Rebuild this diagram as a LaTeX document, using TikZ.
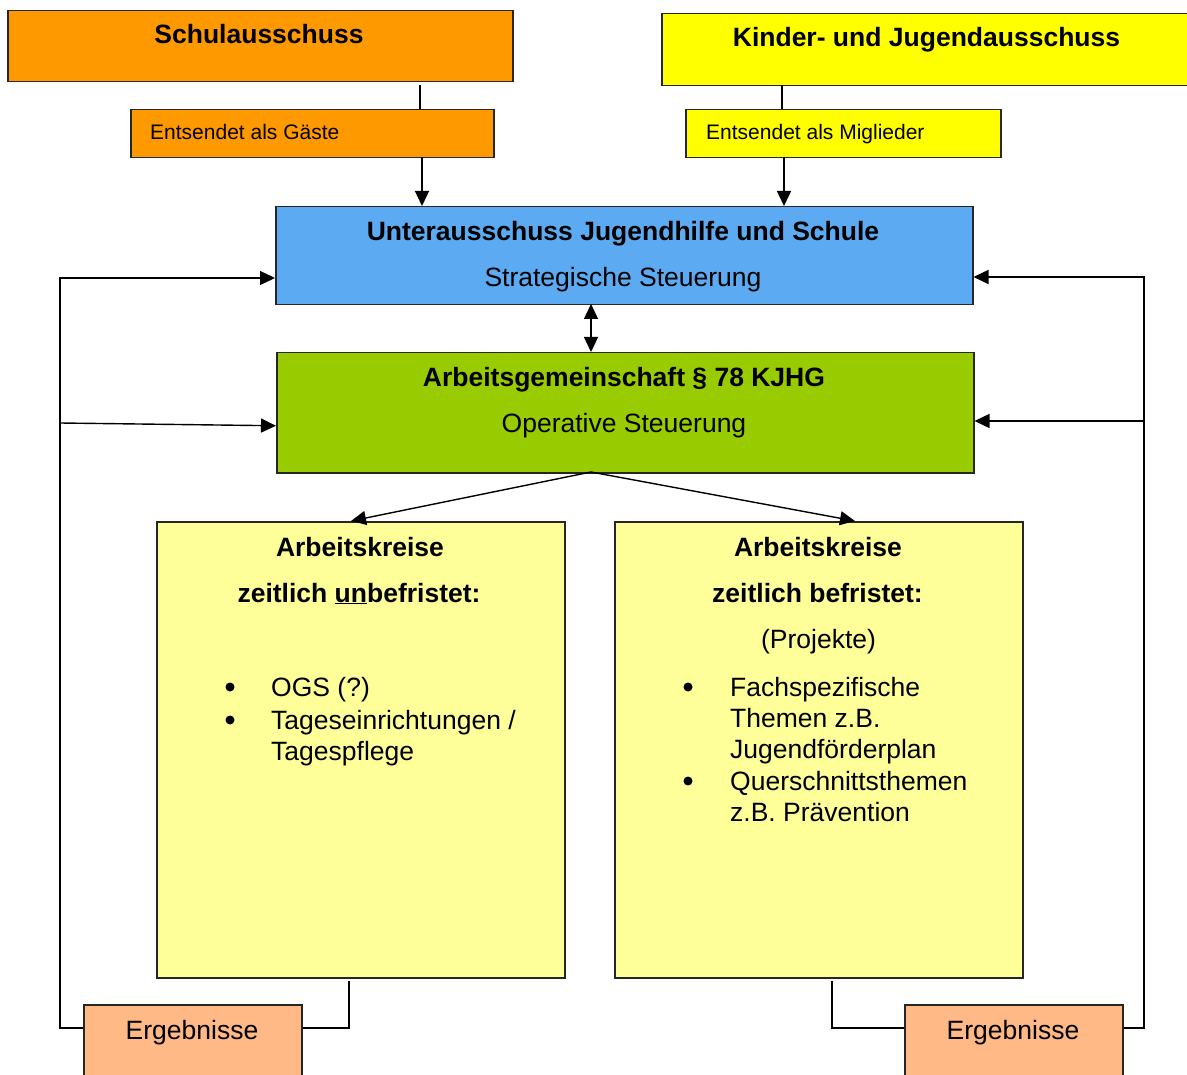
\documentclass[tikz,border=0pt]{standalone}
\usepackage{fontspec}
\setmainfont{Liberation Sans}
\usetikzlibrary{arrows.meta,calc}
\definecolor{cOrange}{HTML}{FF9900}
\definecolor{cYellow}{HTML}{FFFF00}
\definecolor{cBlue}{HTML}{5CAAF2}
\definecolor{cGreen}{HTML}{99CC00}
\definecolor{cPale}{HTML}{FFFF99}
\definecolor{cPeach}{HTML}{FFB986}
\begin{document}
\begin{tikzpicture}[x=1pt,y=-1pt,
  box/.style={draw=black!85, line width=1.5pt, inner sep=0pt, anchor=north west},
  ln/.style={line width=1.4pt},
  arr/.style={ln, -{Triangle[length=15pt,width=14pt]}},
  arrtwo/.style={ln, {Triangle[length=15pt,width=14pt]}-{Triangle[length=15pt,width=14pt]}},
  big/.style={font=\fontsize{26.5}{30}\selectfont, inner sep=0pt, anchor=base},
  bigb/.style={font=\fontsize{26.5}{30}\selectfont\bfseries, inner sep=0pt, anchor=base},
  item/.style={font=\fontsize{26.5}{30}\selectfont, inner sep=0pt, anchor=base west},
  small/.style={font=\fontsize{21}{24}\selectfont, inner sep=0pt, anchor=base west},
  dot/.style={circle, fill=black, inner sep=0pt, minimum size=9pt}]
\useasboundingbox (0,0) rectangle (1187,1075);

% boxes
\node[box, fill=cOrange, minimum width=505pt, minimum height=71pt] (schul) at (7,10) {};
\node[box, fill=cYellow, minimum width=540pt, minimum height=72pt] (kinder) at (661,13) {};
\node[box, fill=cOrange, minimum width=363pt, minimum height=48pt] (gaeste) at (130,109) {};
\node[box, fill=cYellow, minimum width=315pt, minimum height=48pt] (migl) at (685,109) {};
\node[box, fill=cBlue, minimum width=697pt, minimum height=98pt] (blue) at (275,206) {};
\node[box, fill=cGreen, minimum width=697pt, minimum height=120pt] (green) at (276,352) {};
\node[box, fill=cPale, minimum width=408pt, minimum height=456pt] (ak1) at (156,521) {};
\node[box, fill=cPale, minimum width=408pt, minimum height=456pt] (ak2) at (614,521) {};
\node[box, fill=cPeach, minimum width=218pt, minimum height=100pt] (erg1) at (83,1004) {};
\node[box, fill=cPeach, minimum width=218pt, minimum height=100pt] (erg2) at (904,1004) {};

% texts
\node[bigb] (tschul) at (259,44) {Schulausschuss};
\node[bigb] (tkinder) at (926.5,47) {Kinder- und Jugendausschuss};
\node[small] (tgaeste) at (150,139.5) {Entsendet als Gäste};
\node[small] (tmigl) at (706,139.5) {Entsendet als Miglieder};
\node[bigb] (tblue1) at (623,241) {Unterausschuss Jugendhilfe und Schule};
\node[big] (tblue2) at (623,287) {Strategische Steuerung};
\node[bigb] (tgreen1) at (624,387) {Arbeitsgemeinschaft § 78 KJHG};
\node[big] (tgreen2) at (624,433) {Operative Steuerung};

\node[bigb] (tak1a) at (360,556) {Arbeitskreise};
\node[bigb] (tak1b) at (359,602) {zeitlich \underline{un}befristet:};
\node[dot] (b1) at (230,687) {};
\node[dot] (b2) at (230,720) {};
\node[item] (i1) at (271,696) {OGS (?)};
\node[item] (i2) at (271,729) {Tageseinrichtungen /};
\node[item] (i3) at (271,760) {Tagespflege};

\node[bigb] (tak2a) at (818,556) {Arbeitskreise};
\node[bigb] (tak2b) at (817.5,602) {zeitlich befristet:};
\node[big] (tak2c) at (818.5,648) {(Projekte)};
\node[dot] (b3) at (688,687) {};
\node[dot] (b4) at (688,781) {};
\node[item] (j1) at (730,696) {Fachspezifische};
\node[item] (j2) at (730,727) {Themen z.B.};
\node[item] (j3) at (730,758) {Jugendförderplan};
\node[item] (j4) at (730,790) {Querschnittsthemen};
\node[item] (j5) at (730,821) {z.B. Prävention};

\node[big] (terg1) at (192,1039) {Ergebnisse};
\node[big] (terg2) at (1013,1039) {Ergebnisse};

% coordinates
\coordinate (s1) at (420,85);
\coordinate (s2) at (422,157);
\coordinate (k1) at (782,85);
\coordinate (k2) at (784,157);
\coordinate (mid) at (591,304);
\coordinate (gb) at (591,472);
\coordinate (a1t) at (351,521);
\coordinate (a2t) at (855,521);
\coordinate (lb) at (60,1028);
\coordinate (lt) at (60,278);
\coordinate (lm) at (60,423);
\coordinate (rb) at (1144,1028);
\coordinate (rt) at (1144,277);
\coordinate (rm) at (1144,421);
\coordinate (a1b) at (349,981);
\coordinate (a2b) at (832,981);

% connectors
\draw[ln] (s1) -- (s1 |- gaeste.north);
\draw[arr] (s2) -- (s2 |- blue.north);
\draw[ln] (k1) -- (k1 |- migl.north);
\draw[arr] (k2) -- (k2 |- blue.north);
\draw[arrtwo] (mid) -- (mid |- green.north);
\draw[arr] (gb) -- (a1t);
\draw[arr] (gb) -- (a2t);

\draw[arr] (erg1.west |- lb) -- (lb) -- (lt) -- (lt -| blue.west);
\draw[arr] (lm) -- ($(green.west)+(0,13)$);
\draw[arr] (erg2.east |- rb) -- (rb) -- (rt) -- (rt -| blue.east);
\draw[arr] (rm) -- (rm -| green.east);

\draw[ln] (a1b) -- (a1b |- lb) -- (lb -| erg1.east);
\draw[ln] (a2b) -- (a2b |- rb) -- (rb -| erg2.west);
\end{tikzpicture}
\end{document}
